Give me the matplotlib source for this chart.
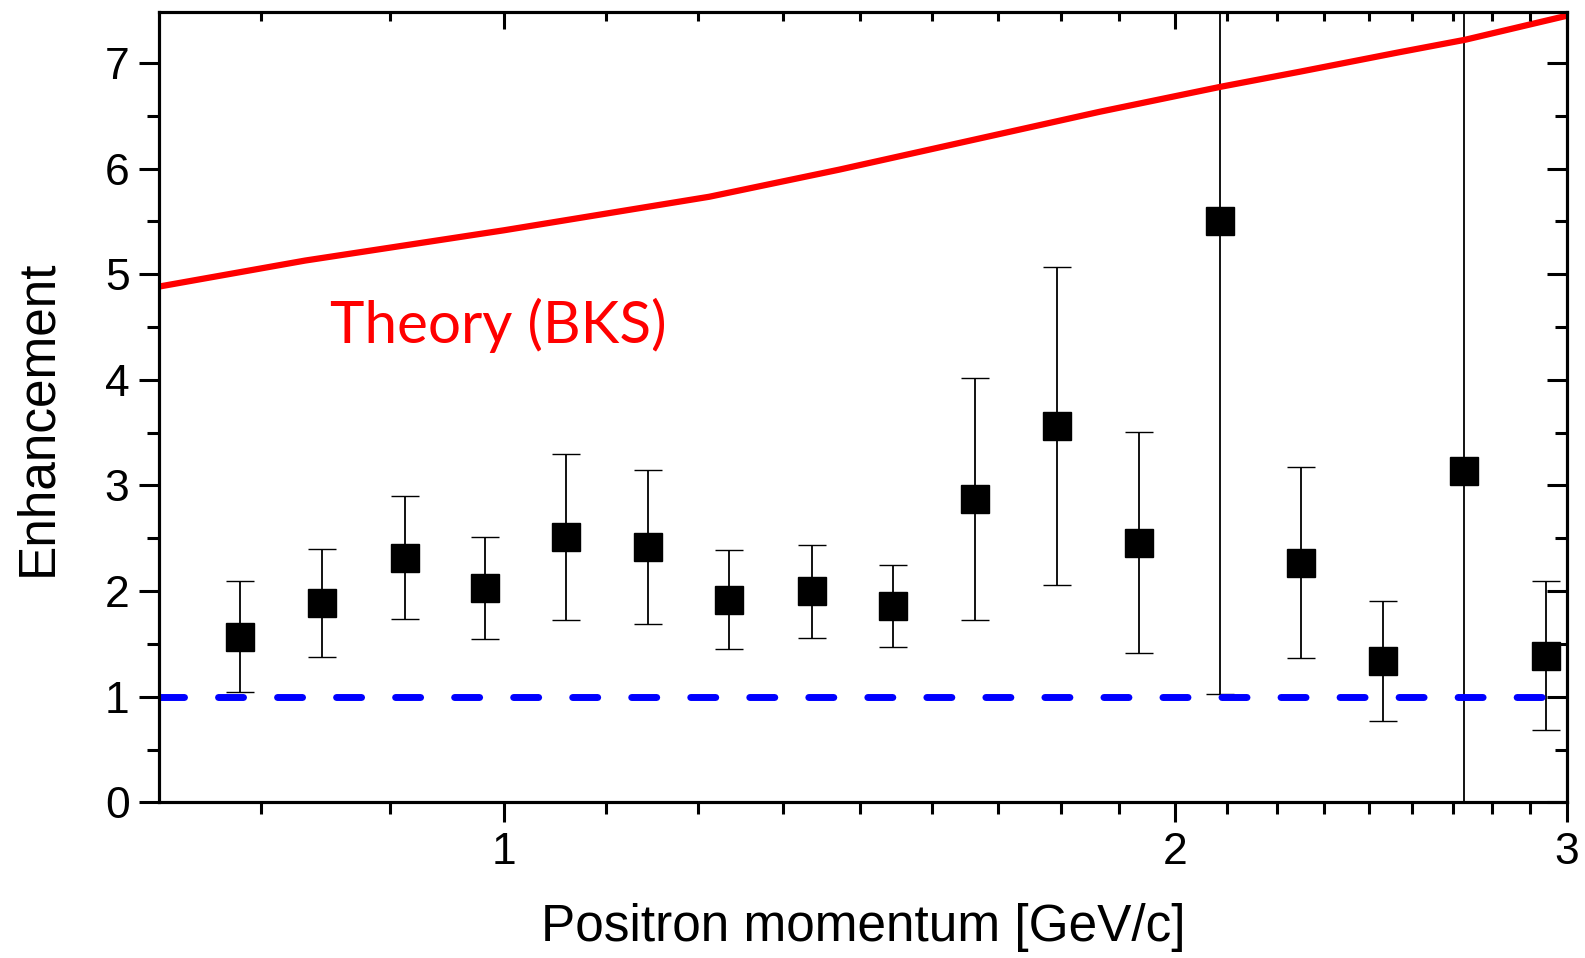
import numpy as np
import matplotlib
matplotlib.use('Agg')
import matplotlib.pyplot as plt
from matplotlib.ticker import NullFormatter

#   measured enhancement vs positron momentum
momentum = [0.761, 0.828, 0.902, 0.980, 1.066, 1.160, 1.261, 1.374, 1.495,
            1.627, 1.770, 1.928, 2.096, 2.28, 2.48, 2.698, 2.935]
enhancement = [1.57, 1.885, 2.316, 2.03, 2.51, 2.42, 1.92, 2.00, 1.86,
               2.87, 3.56, 2.46, 5.50, 2.27, 1.34, 3.14, 1.39]
enh_err = [0.53, 0.51, 0.58, 0.48, 0.785, 0.73, 0.47, 0.44, 0.39,
           1.145, 1.505, 1.05, 4.47, 0.905, 0.57, 6.0, 0.705]

#   theory curve (BKS)
theory_p = [0.70, 0.814, 1.0, 1.236, 1.414, 1.851, 2.098, 2.276, 2.522, 2.701, 3.0]
theory_e = [4.884, 5.13, 5.417, 5.734, 5.991, 6.539, 6.776, 6.918, 7.102, 7.221, 7.448]

#   no-enhancement reference level
ref_p = [0.70, 3.0]
ref_e = [1.0, 1.0]

x_range = (0.70, 3.0)
y_range = (0, 7.48)
x_major = [1, 2, 3]
x_labels = ['1', '2', '3']
x_minor = [1 - 2 / 9, 1 - 1 / 9] + [1 + k / 9 for k in range(1, 9)] + [2 + k / 9 for k in range(1, 9)]
y_major = list(range(0, 8))
y_minor = [0.5 + k for k in range(0, 7)]

plt.rcParams['font.family'] = ['Liberation Sans', 'DejaVu Sans']

fig = plt.figure(figsize=(15.85, 9.58), dpi=100)
ax = fig.add_axes([0.1005, 0.1625, 0.8881, 0.8246])

ax.errorbar(momentum, enhancement, yerr=enh_err, fmt='s', color='black',
            ecolor='black', elinewidth=1.3, capsize=10, capthick=1.3,
            markersize=19.5, markeredgewidth=1, zorder=3)
ax.plot(ref_p, ref_e, color=(0, 0, 1), linewidth=5, dashes=(3.6, 4.9),
        dash_capstyle='round', zorder=4)
ax.plot(theory_p, theory_e, color=(1, 0, 0), linewidth=4.5, zorder=5,
        solid_capstyle='butt', solid_joinstyle='round')

ax.text(0.835, 4.52, 'Theory (BKS)', color=(1, 0, 0), fontsize=42,
        family=['Lato', 'DejaVu Sans'], va='center', ha='left')

ax.set_xscale('log')
ax.set_xlim(*x_range)
ax.set_ylim(*y_range)
ax.set_xticks(x_major)
ax.set_xticklabels(x_labels)
ax.set_xticks(x_minor, minor=True)
ax.xaxis.set_minor_formatter(NullFormatter())
ax.set_yticks(y_major)
ax.set_yticks(y_minor, minor=True)

ax.tick_params(which='major', direction='out', length=14.4, width=2.2,
               labelsize=32, pad=7)
ax.tick_params(which='minor', direction='out', length=8.6, width=2.2)
for s in ax.spines.values():
    s.set_linewidth(2.2)

#   top and right ticks point inward
axt = ax.twiny()
axt.set_xscale('log')
axt.set_xlim(*x_range)
axt.set_xticks(x_major)
axt.set_xticks(x_minor, minor=True)
axt.tick_params(which='major', direction='in', length=12.5, width=2.2, labeltop=False)
axt.tick_params(which='minor', direction='in', length=6.5, width=2.2)
axt.xaxis.set_minor_formatter(NullFormatter())
axr = ax.twinx()
axr.set_ylim(*y_range)
axr.set_yticks(y_major)
axr.set_yticks(y_minor, minor=True)
axr.tick_params(which='major', direction='in', length=14.4, width=2.2, labelright=False)
axr.tick_params(which='minor', direction='in', length=8.6, width=2.2)
for a in (axt, axr):
    for s in a.spines.values():
        s.set_linewidth(2.2)

ax.set_xlabel('Positron momentum [GeV/c]', fontsize=37)
ax.set_ylabel('Enhancement', fontsize=37)
ax.xaxis.set_label_coords(0.5, -0.128)
ax.yaxis.set_label_coords(-0.069, 0.487)

fig.savefig('out.png', dpi=100)
